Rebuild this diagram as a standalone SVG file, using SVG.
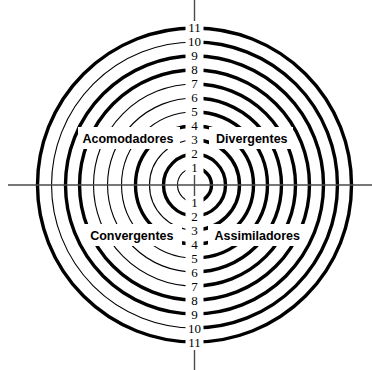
<svg xmlns="http://www.w3.org/2000/svg" width="372" height="370" viewBox="0 0 372 370">
<style>
.T{fill:none;stroke:#000;stroke-width:3.4}
.t{fill:none;stroke:#000;stroke-width:1.1}
.ax{stroke:#4a4a4a;stroke-width:1.4;fill:none}
.bx{fill:#fff;stroke:none}
.n{font-family:"Liberation Serif","Times New Roman",serif;font-size:13px;fill:#000;text-anchor:middle}
.q{font-family:"Liberation Sans",Arial,sans-serif;font-size:12.5px;font-weight:bold;fill:#000}
</style>
<rect width="372" height="370" fill="#fff"/>
<g id="rings">
<path class="T" d="M194.5 168 A17 17 0 0 1 194.5 202"/><path class="t" d="M194.5 202 A17 17 0 0 1 194.5 168"/>
<path class="T" d="M194.5 154 A31 31 0 0 1 194.5 216"/><path class="T" d="M194.5 216 A31 31 0 0 1 194.5 154"/>
<path class="T" d="M194.5 140 A45 45 0 0 1 194.5 230"/><path class="t" d="M194.5 230 A45 45 0 0 1 194.5 140"/>
<path class="T" d="M194.5 126 A59 59 0 0 1 194.5 244"/><path class="T" d="M194.5 244 A59 59 0 0 1 194.5 126"/>
<path class="T" d="M194.5 112 A73 73 0 0 1 194.5 258"/><path class="t" d="M194.5 258 A73 73 0 0 1 194.5 112"/>
<path class="T" d="M194.5 98 A87 87 0 0 1 194.5 272"/><path class="t" d="M194.5 272 A87 87 0 0 1 194.5 98"/>
<path class="T" d="M194.5 84 A101 101 0 0 1 194.5 286"/><path class="t" d="M194.5 286 A101 101 0 0 1 194.5 84"/>
<path class="T" d="M194.5 70 A115 115 0 0 1 194.5 300"/><path class="T" d="M194.5 300 A115 115 0 0 1 194.5 70"/>
<path class="T" d="M194.5 56 A129 129 0 0 1 194.5 314"/><path class="T" d="M194.5 314 A129 129 0 0 1 194.5 56"/>
<path class="T" d="M194.5 42 A143 143 0 0 1 194.5 328"/><path class="t" d="M194.5 328 A143 143 0 0 1 194.5 42"/>
<path class="T" d="M194.5 28 A157 157 0 0 1 194.5 342"/><path class="T" d="M194.5 342 A157 157 0 0 1 194.5 28"/>
</g>
<g id="connectors">
<line class="ax" x1="8" y1="185" x2="372" y2="185"/>
<line class="ax" x1="194.5" y1="0" x2="194.5" y2="370"/>
</g>
<g id="scale-top">
<rect class="bx" x="185.5" y="21" width="18" height="14"/><text class="n" x="194.5" y="32.4">11</text>
<rect class="bx" x="185.5" y="35" width="18" height="14"/><text class="n" x="194.5" y="46.4">10</text>
<rect class="bx" x="185.5" y="49" width="18" height="14"/><text class="n" x="194.5" y="60.4">9</text>
<rect class="bx" x="185.5" y="63" width="18" height="14"/><text class="n" x="194.5" y="74.4">8</text>
<rect class="bx" x="185.5" y="77" width="18" height="14"/><text class="n" x="194.5" y="88.4">7</text>
<rect class="bx" x="185.5" y="91" width="18" height="14"/><text class="n" x="194.5" y="102.4">6</text>
<rect class="bx" x="185.5" y="105" width="18" height="14"/><text class="n" x="194.5" y="116.4">5</text>
<rect class="bx" x="185.5" y="119" width="18" height="14"/><text class="n" x="194.5" y="130.4">4</text>
<rect class="bx" x="185.5" y="133" width="18" height="14"/><text class="n" x="194.5" y="144.4">3</text>
<rect class="bx" x="185.5" y="147" width="18" height="14"/><text class="n" x="194.5" y="158.4">2</text>
<rect class="bx" x="185.5" y="161" width="18" height="14"/><text class="n" x="194.5" y="172.4">1</text>
</g>
<g id="scale-bottom">
<rect class="bx" x="185.5" y="196" width="18" height="14"/><text class="n" x="194.5" y="207.4">1</text>
<rect class="bx" x="185.5" y="210" width="18" height="14"/><text class="n" x="194.5" y="221.4">2</text>
<rect class="bx" x="185.5" y="224" width="18" height="14"/><text class="n" x="194.5" y="235.4">3</text>
<rect class="bx" x="185.5" y="238" width="18" height="14"/><text class="n" x="194.5" y="249.4">4</text>
<rect class="bx" x="185.5" y="252" width="18" height="14"/><text class="n" x="194.5" y="263.4">5</text>
<rect class="bx" x="185.5" y="266" width="18" height="14"/><text class="n" x="194.5" y="277.4">6</text>
<rect class="bx" x="185.5" y="280" width="18" height="14"/><text class="n" x="194.5" y="291.4">7</text>
<rect class="bx" x="185.5" y="294" width="18" height="14"/><text class="n" x="194.5" y="305.4">8</text>
<rect class="bx" x="185.5" y="308" width="18" height="14"/><text class="n" x="194.5" y="319.4">9</text>
<rect class="bx" x="185.5" y="322" width="18" height="14"/><text class="n" x="194.5" y="333.4">10</text>
<rect class="bx" x="185.5" y="336" width="18" height="14"/><text class="n" x="194.5" y="347.4">11</text>
</g>
<g id="acomodadores"><rect class="bx" x="78" y="127" width="102" height="22"/><text class="q" x="173.5" y="142.5" text-anchor="end">Acomodadores</text></g>
<g id="divergentes"><rect class="bx" x="209" y="127" width="84" height="22"/><text class="q" x="216" y="142.5">Divergentes</text></g>
<g id="convergentes"><rect class="bx" x="84" y="224" width="98" height="22"/><text class="q" x="173.5" y="239.5" text-anchor="end">Convergentes</text></g>
<g id="assimiladores"><rect class="bx" x="208" y="224" width="98" height="22"/><text class="q" x="214.5" y="239.5">Assimiladores</text></g>
</svg>
